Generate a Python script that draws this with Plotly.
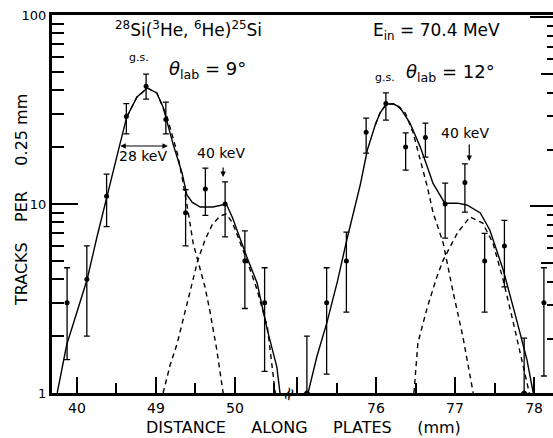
import plotly.graph_objects as go

# ---------------- data (distance along plates in mm, tracks per 0.25 mm) ----------------
left_x = [47.875, 48.125, 48.375, 48.625, 48.875, 49.125, 49.375, 49.625, 49.875, 50.125, 50.375]
left_y = [3, 4, 11, 29, 42, 28, 9, 12, 10, 5, 3]
left_hi = [4.6, 6.0, 14.4, 34.0, 48.7, 34.6, 11.9, 15.5, 13.1, 7.2, 4.6]
left_lo = [1.5, 2.0, 7.6, 23.5, 35.9, 23.5, 6.0, 8.7, 6.7, 2.8, 1.3]

right_x = [75.125, 75.375, 75.625, 75.875, 76.125, 76.375, 76.625, 76.875, 77.125, 77.375, 77.625, 77.875, 78.125]
right_y = [1, 3, 5, 24, 34, 20, 22.5, 10, 13, 5, 6, 1, 3]
right_hi = [2.0, 4.6, 7.1, 28.5, 38.7, 23.8, 26.8, 12.9, 16.3, 7.0, 8.2, 1.95, 4.6]
right_lo = [1.0, 1.26, 2.68, 18.6, 27.8, 15.1, 17.7, 6.6, 9.06, 2.68, 3.64, 1.0, 1.23]

# fitted curves (theta_lab = 9 deg)
l_sum_x = [47.75, 47.87, 48.0, 48.13, 48.25, 48.38, 48.51, 48.63, 48.76, 48.89, 49.01, 49.09, 49.22,
           49.33, 49.39, 49.46, 49.56, 49.72, 49.89, 49.97, 50.15, 50.28, 50.41, 50.53, 50.57]
l_sum_y = [1.0, 1.8, 2.68, 4.01, 6.61, 10.8, 18.2, 28.9, 36.8, 41.1, 38.7, 32.6, 20.5,
           14.6, 11.2, 10.2, 9.64, 9.64, 10.0, 8.43, 5.24, 3.82, 2.15, 1.37, 1.0]
l_gs_x = [48.63, 48.76, 48.89, 49.01, 49.14, 49.27, 49.33, 49.37, 49.41, 49.47, 49.53, 49.62, 49.68, 49.77, 49.85]
l_gs_y = [28.9, 36.8, 41.1, 38.7, 28.9, 18.6, 13.9, 11.4, 8.96, 6.22, 5.05, 3.64, 2.75, 1.69, 1.0]
l_ex_x = [49.09, 49.18, 49.27, 49.37, 49.46, 49.53, 49.62, 49.71, 49.81, 49.89, 49.97, 50.15, 50.28, 50.41, 50.51]
l_ex_y = [1.0, 1.41, 1.84, 2.75, 3.82, 5.05, 6.45, 7.74, 8.64, 8.85, 7.93, 5.05, 3.51, 2.23, 1.0]

# fitted curves (theta_lab = 12 deg)
r_sum_x = [75.14, 75.25, 75.38, 75.51, 75.63, 75.70, 75.80, 75.89, 75.99, 76.05, 76.13, 76.22, 76.30,
           76.43, 76.56, 76.65, 76.72, 76.87, 77.03, 77.15, 77.32, 77.44, 77.61, 77.78, 77.91, 77.99]
r_sum_y = [1.0, 1.55, 2.37, 3.87, 6.45, 8.43, 12.6, 19.3, 26.2, 30.3, 33.8, 33.8, 32.6,
           26.8, 20.0, 15.7, 12.9, 10.1, 10.1, 9.88, 8.96, 7.29, 4.48, 2.43, 1.5, 1.0]
r_gs_x = [75.99, 76.05, 76.13, 76.24, 76.37, 76.47, 76.56, 76.65, 76.72, 76.85, 76.97, 77.10, 77.23]
r_gs_y = [26.2, 30.3, 33.8, 33.8, 30.3, 23.8, 17.1, 12.3, 9.07, 6.22, 3.51, 1.98, 1.0]
r_ex_x = [76.48, 76.53, 76.65, 76.77, 76.85, 77.03, 77.19, 77.35, 77.48, 77.61, 77.73, 77.86, 77.94]
r_ex_y = [1.0, 1.84, 2.85, 4.11, 5.05, 7.03, 8.54, 7.93, 6.22, 3.96, 2.43, 1.37, 1.0]

left_ticks = [48, 49, 50]
left_ticktext = ["40", "49", "50"]
right_ticks = [75, 76, 77, 78]
right_ticktext = ["", "76", "77", "78"]

# broken axis: right-hand segment is drawn shifted onto the same x axis
SHIFT = 24.215
def rx(v):
    return [a - SHIFT for a in v]

FONT = "DejaVu Sans"
BLACK = "black"

fig = go.Figure()

def curve(x, y, dash):
    fig.add_trace(go.Scatter(x=x, y=y, mode="lines", cliponaxis=False,
                             line=dict(color=BLACK, width=1.4, dash=dash),
                             hoverinfo="skip", showlegend=False))

curve(l_sum_x, l_sum_y, "solid")
curve(l_gs_x, l_gs_y, "5px,4px")
curve(l_ex_x, l_ex_y, "5px,4px")
curve(rx(r_sum_x), r_sum_y, "solid")
curve(rx(r_gs_x), r_gs_y, "5px,4px")
curve(rx(r_ex_x), r_ex_y, "5px,4px")

def points(x, y, hi, lo):
    fig.add_trace(go.Scatter(
        x=x, y=y, mode="markers", cliponaxis=False,
        marker=dict(color=BLACK, size=5),
        error_y=dict(type="data", symmetric=False,
                     array=[h - v for h, v in zip(hi, y)],
                     arrayminus=[v - l for l, v in zip(lo, y)],
                     color=BLACK, thickness=1.3, width=3),
        showlegend=False))

points(left_x, left_y, left_hi, left_lo)
points(rx(right_x), right_y, right_hi, right_lo)

major_vals = left_ticks + rx(right_ticks)
major_text = left_ticktext + right_ticktext
minor_vals = [48.5, 49.5, 50.5] + rx([75.5, 76.5, 77.5])

def paper(px, py):
    return (px - 52) / 501.0, (393 - py) / 378.0

ann = []
def text(px, py, s, size, xanchor="center", angle=0):
    x, y = paper(px, py)
    ann.append(dict(x=x, y=y, xref="paper", yref="paper", text=s, showarrow=False,
                    xanchor=xanchor, yanchor="middle", textangle=angle,
                    font=dict(family=FONT, size=size, color=BLACK)))

text(188, 29, "<sup>28</sup>Si(<sup>3</sup>He, <sup>6</sup>He)<sup>25</sup>Si", 17)
text(436, 31, "E<sub>in</sub> = 70.4 MeV", 17)
text(139, 58, "g.s.", 11)
text(207, 70, "<i>θ</i><sub>lab</sub> = 9°", 18)
text(385, 77, "g.s.", 11)
text(450, 73, "<i>θ</i><sub>lab</sub> = 12°", 18)
text(143, 156, "28 keV", 14)
text(221, 153, "40 keV", 14)
text(465, 133, "40 keV", 14)
NB = "\u00a0"
text(21, 200, "TRACKS" + NB * 4 + "PER" + NB * 5 + "0.25 mm", 16, angle=-90)
text(303, 427, "DISTANCE" + NB * 5 + "ALONG" + NB * 5 + "PLATES" + NB * 5 + "(mm)", 16)

# arrows (data coordinates; log axis uses log10 values)
ann.append(dict(x=49.15, y=1.307, xref="x", yref="y", ax=-49, ay=0, text="",
                showarrow=True, arrowhead=2, arrowside="end+start", arrowsize=0.9,
                arrowwidth=1.2, arrowcolor=BLACK, standoff=0, startstandoff=0))
ann.append(dict(x=49.85, y=1.143, xref="x", yref="y", ax=0, ay=-11, text="",
                showarrow=True, arrowhead=2, arrowsize=0.9, arrowwidth=1.2, arrowcolor=BLACK))
ann.append(dict(x=77.18 - SHIFT, y=1.228, xref="x", yref="y", ax=0, ay=-18, text="",
                showarrow=True, arrowhead=2, arrowsize=0.9, arrowwidth=1.2, arrowcolor=BLACK))
# axis break mark
ann.append(dict(x=50.67, y=0, xref="x", yref="y", text="≈", showarrow=False, textangle=-65,
                font=dict(family=FONT, size=18, color=BLACK), xanchor="center", yanchor="middle"))

fig.update_layout(
    width=553, height=438,
    margin=dict(l=52, r=0, t=15, b=45),
    paper_bgcolor="white", plot_bgcolor="white",
    showlegend=False,
    font=dict(family=FONT, color=BLACK),
    annotations=ann,
    xaxis=dict(range=[47.684, 54.025], showgrid=False, zeroline=False,
               showline=True, linewidth=2.5, linecolor=BLACK, mirror=True,
               ticks="inside", ticklen=16, tickwidth=1.5, tickcolor=BLACK,
               tickvals=major_vals, ticktext=major_text,
               tickfont=dict(family=FONT, size=14, color=BLACK),
               minor=dict(tickvals=minor_vals, ticks="inside", ticklen=10,
                          tickwidth=1.5, tickcolor=BLACK, showgrid=False)),
    yaxis=dict(type="log", range=[0, 2], showgrid=False, zeroline=False,
               showline=True, linewidth=3, linecolor=BLACK,
               ticks="inside", ticklen=26, tickwidth=1.5, tickcolor=BLACK,
               tickvals=[1, 10, 100], ticktext=["1", "10", "100"],
               tickfont=dict(family=FONT, size=13, color=BLACK),
               minor=dict(tickvals=[2, 3, 4, 5, 6, 7, 8, 9, 20, 30, 40, 50, 60, 70, 80, 90],
                          ticks="inside", ticklen=12, tickwidth=1.5, tickcolor=BLACK,
                          showgrid=False)),
    yaxis2=dict(type="log", range=[0.013, 2.013], overlaying="y", anchor="free", position=1,
                side="right", showgrid=False, zeroline=False, showline=False,
                showticklabels=False, ticks="inside", ticklen=23, tickwidth=1.5,
                tickcolor=BLACK, tickvals=[10, 100],
                minor=dict(tickvals=[2, 3, 4, 6, 7, 8, 9, 20, 30, 40, 60, 70, 80, 90],
                           ticks="inside", ticklen=6, tickwidth=1.5, tickcolor=BLACK,
                           showgrid=False)),
    yaxis3=dict(type="log", range=[0.013, 2.013], overlaying="y", anchor="free", position=1,
                side="right", showgrid=False, zeroline=False, showline=False,
                showticklabels=False, ticks="inside", ticklen=12, tickwidth=1.5,
                tickcolor=BLACK, tickvals=[5, 50]),
)

# invisible traces so the extra right-hand axes are rendered
fig.add_trace(go.Scatter(x=[None], y=[None], yaxis="y2", showlegend=False, hoverinfo="skip"))
fig.add_trace(go.Scatter(x=[None], y=[None], yaxis="y3", showlegend=False, hoverinfo="skip"))

# remove the browser's default page margin so the figure fills the window exactly
fig.write_html("out.html", config={"displayModeBar": False},
               post_script="document.body.style.margin='0';document.body.style.overflow='hidden';")
